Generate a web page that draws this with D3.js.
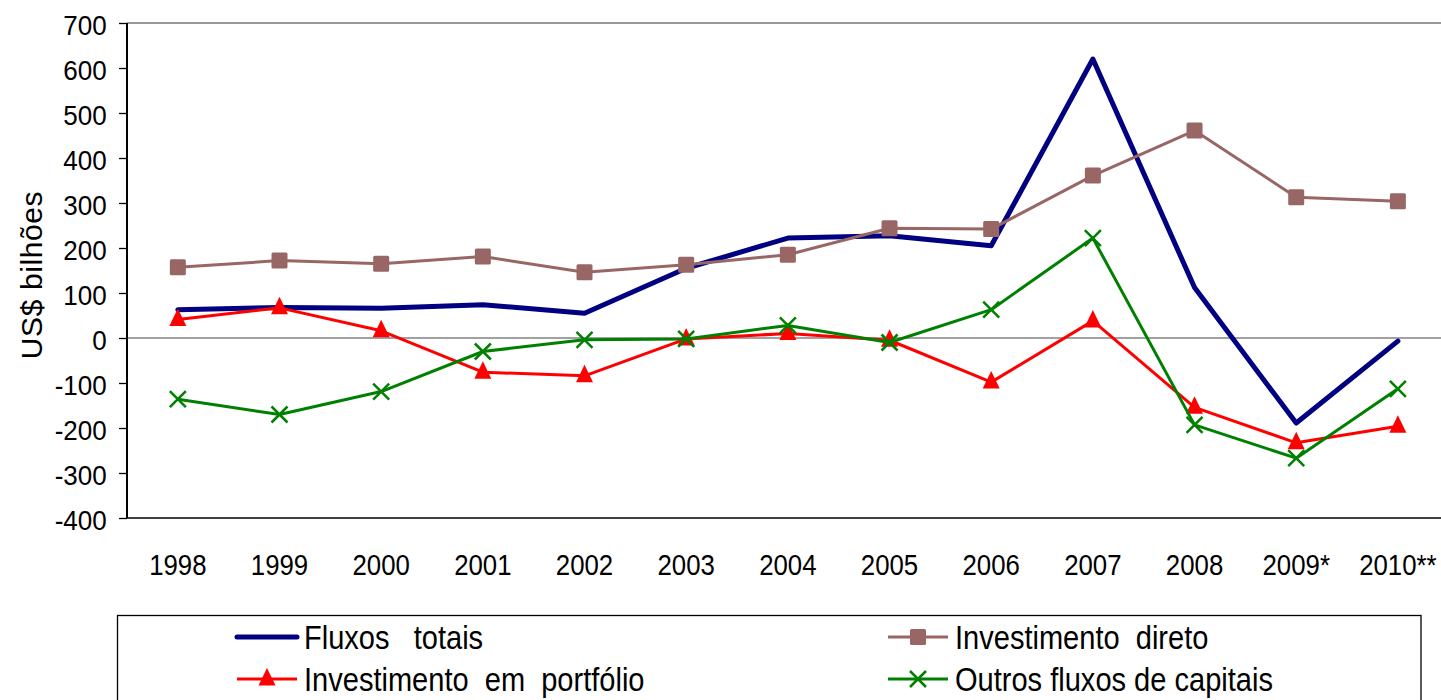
<!DOCTYPE html>
<html>
<head>
<meta charset="utf-8">
<script src="https://cdn.jsdelivr.net/npm/d3@7"></script>
<style>
  html, body { margin: 0; padding: 0; background: #fff; }
  text { font-family: "Liberation Sans", Arial, sans-serif; fill: #000; }
</style>
</head>
<body>
<div id="chart"></div>
<script>
// categories and series
var years = ["1998", "1999", "2000", "2001", "2002", "2003", "2004", "2005", "2006", "2007", "2008", "2009*", "2010**"];
var fluxosTotais = [63, 68, 66, 74, 55, 155, 222, 227, 205, 620, 112, -189, -7];
var investDireto = [157, 172, 165, 181, 146, 163, 185, 244, 242, 361, 461, 313, 304];
var investPortfolio = [41, 67, 16, -76, -84, -2, 10, -5, -98, 38, -154, -233, -196];
var outrosFluxos = [-136, -170, -119, -30, -4, -2, 28, -10, 63, 222, -193, -267, -113];
var yTicks = [700, 600, 500, 400, 300, 200, 100, 0, -100, -200, -300, -400];

var W = 1441, H = 700;
var plotLeft = 127, plotTop = 23, plotBottom = 518;
var step = 101.67;

var svg = d3.select("#chart").append("svg")
	.attr("width", W)
	.attr("height", H);

var x = d3.scaleBand()
	.domain(years)
	.range([plotLeft, plotLeft + step * years.length]);

var y = d3.scaleLinear()
	.domain([-400, 700])
	.range([plotBottom, plotTop]);

function cx(i){
	return x(years[i]) + x.bandwidth() / 2;
}

//NARROW TEXT: SCALE HORIZONTALLY AROUND ITS ANCHOR
function narrowText(parent, px, py, str, size, sx, anchor){
	return parent.append("text")
		.attr("transform", "translate(" + px + "," + py + ") scale(" + sx + ",1)")
		.attr("text-anchor", anchor || "start")
		.attr("font-size", size)
		.attr("xml:space", "preserve")
		.style("white-space", "pre")
		.text(str);
}

//PLOT FRAME (right edge falls outside the picture)
svg.append("line").attr("x1", plotLeft).attr("x2", W + 10).attr("y1", plotTop).attr("y2", plotTop)
	.attr("stroke", "#333").attr("stroke-width", 1.2);
svg.append("line").attr("x1", plotLeft).attr("x2", W + 10).attr("y1", plotBottom).attr("y2", plotBottom)
	.attr("stroke", "#000").attr("stroke-width", 1.5);

//ZERO LINE
svg.append("line").attr("x1", plotLeft).attr("x2", W + 10).attr("y1", y(0)).attr("y2", y(0))
	.attr("stroke", "#444").attr("stroke-width", 1.2);

//Y AXIS (plain hyphen for negatives, as in the reference)
var yAxis = d3.axisLeft(y).tickValues(yTicks).tickSize(8).tickFormat(function(d){ return "" + d; });
var gy = svg.append("g").attr("transform", "translate(" + plotLeft + ",0)").call(yAxis);
gy.select(".domain").attr("stroke", "#000").attr("stroke-width", 2).attr("d", "M0," + plotTop + "V" + plotBottom);
gy.selectAll(".tick line").attr("stroke", "#000").attr("stroke-width", 1.3);
gy.selectAll(".tick text")
	.attr("font-size", 28)
	.attr("font-family", "Liberation Sans, Arial, sans-serif")
	.attr("fill", "#000")
	.attr("x", -20.3 / 0.93)
	.attr("dy", "0.42em")
	.attr("transform", "scale(0.93,1)");

//X LABELS
var gx = svg.append("g");
years.forEach(function(d, i){
	narrowText(gx, cx(i), 575, d, 30, 0.86, "middle");
});

//Y TITLE
svg.append("text")
	.attr("transform", "translate(42,275) rotate(-90)")
	.attr("text-anchor", "middle")
	.attr("font-size", 30)
	.attr("letter-spacing", 0.6)
	.text("US$ bilhões");

var series = [
	{name: "Fluxos   totais", values: fluxosTotais, color: "#000080", width: 5, marker: "none"},
	{name: "Investimento  direto", values: investDireto, color: "#996666", width: 3, marker: "square"},
	{name: "Investimento  em  portfólio", values: investPortfolio, color: "#ff0000", width: 3, marker: "triangle"},
	{name: "Outros fluxos de capitais", values: outrosFluxos, color: "#008000", width: 3, marker: "cross"}
];

var line = d3.line()
	.x(function(d, i){ return cx(i); })
	.y(function(d){ return y(d); });

function drawMarker(g, kind, px, py, color){
	if (kind == "square") {
		g.append("rect")
			.attr("x", px - 8).attr("y", py - 8)
			.attr("width", 16).attr("height", 16)
			.attr("rx", 1.5)
			.attr("fill", color);
	} else if (kind == "triangle") {
		g.append("path")
			.attr("d", "M" + px + "," + (py - 11) + "L" + (px + 8.5) + "," + (py + 6.5) + "L" + (px - 8.5) + "," + (py + 6.5) + "Z")
			.attr("fill", color);
	} else if (kind == "cross") {
		var s = 8;
		g.append("path")
			.attr("d", "M" + (px - s) + "," + (py - s) + "L" + (px + s) + "," + (py + s) + "M" + (px + s) + "," + (py - s) + "L" + (px - s) + "," + (py + s))
			.attr("stroke", color)
			.attr("stroke-width", 2.5)
			.attr("fill", "none");
	}//endif
}

series.forEach(function(s){
	var g = svg.append("g");
	g.append("path")
		.datum(s.values)
		.attr("d", line)
		.attr("fill", "none")
		.attr("stroke", s.color)
		.attr("stroke-width", s.width)
		.attr("stroke-linejoin", "round")
		.attr("stroke-linecap", "round");
	s.values.forEach(function(v, i){
		drawMarker(g, s.marker, cx(i), y(v), s.color);
	});
});

//LEGEND
svg.append("rect")
	.attr("x", 117.5).attr("y", 615.5)
	.attr("width", 1303.5).attr("height", 120)
	.attr("fill", "none")
	.attr("stroke", "#000")
	.attr("stroke-width", 1.3);

var legendPos = [
	{x: 237, y: 637},
	{x: 888, y: 637},
	{x: 237, y: 679},
	{x: 888, y: 679}
];

series.forEach(function(s, i){
	var p = legendPos[i];
	var g = svg.append("g");
	g.append("line")
		.attr("x1", p.x).attr("x2", p.x + 60)
		.attr("y1", p.y).attr("y2", p.y)
		.attr("stroke", s.color)
		.attr("stroke-width", s.width)
		.attr("stroke-linecap", s.marker == "none" ? "round" : "butt");
	drawMarker(g, s.marker, p.x + 30, p.y, s.color);
	narrowText(g, p.x + 67, p.y + 12, s.name, 33, 0.88, "start");
});
</script>
</body>
</html>
